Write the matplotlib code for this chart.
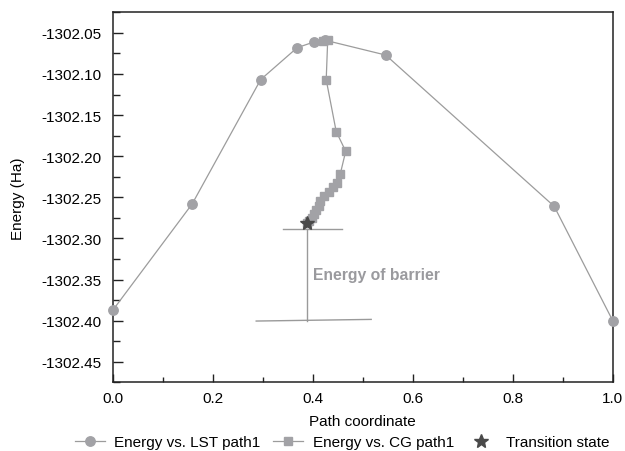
import matplotlib
matplotlib.use("Agg")
import matplotlib.pyplot as plt
from matplotlib.ticker import MultipleLocator, FormatStrFormatter

plt.rcParams['font.family'] = ['Liberation Sans', 'DejaVu Sans']

# LST path
lst_x = [0.0, 0.159, 0.296, 0.369, 0.403, 0.425, 0.546, 0.883, 1.0]
lst_y = [-1302.3875, -1302.258, -1302.1068, -1302.068, -1302.061, -1302.059,
         -1302.077, -1302.261, -1302.400]

# CG path
cg_x = [0.420, 0.430, 0.427, 0.447, 0.466, 0.455, 0.449, 0.441, 0.432, 0.423,
        0.415, 0.412, 0.407, 0.402, 0.398, 0.393, 0.389]
cg_y = [-1302.060, -1302.059, -1302.107, -1302.170, -1302.194, -1302.222,
        -1302.232, -1302.238, -1302.244, -1302.249, -1302.254, -1302.260,
        -1302.265, -1302.270, -1302.275, -1302.279, -1302.281]

# Transition state
ts_x = [0.389]
ts_y = [-1302.281]

# Barrier annotation
bar_top_x = [0.341, 0.459]
bar_top_y = [-1302.288, -1302.288]
bar_bot_x = [0.287, 0.517]
bar_bot_y = [-1302.4005, -1302.3985]
bar_v_x = [0.389, 0.389]
bar_v_y = [-1302.288, -1302.400]
bar_label = "Energy of barrier"

xticks = [0.0, 0.2, 0.4, 0.6, 0.8, 1.0]
yticks = [-1302.45, -1302.40, -1302.35, -1302.30, -1302.25, -1302.20,
          -1302.15, -1302.10, -1302.05]

fig = plt.figure(figsize=(6.25, 4.52), dpi=100)
ax = fig.add_axes([112.7/625, 1-383.3/452, 500/625, 370/452])

mcol = '#a2a2a6'
lcol = '#9c9c9c'
l1, = ax.plot(lst_x, lst_y, '-', color=lcol, lw=0.9, marker='o', ms=6.8,
              mfc=mcol, mec=mcol, label='Energy vs. LST path1', clip_on=False)
l2, = ax.plot(cg_x, cg_y, '-', color=lcol, lw=0.9, marker='s', ms=6.2,
              mfc=mcol, mec=mcol, label='Energy vs. CG path1', clip_on=False)
l3, = ax.plot(ts_x, ts_y, ls='none', marker='*', ms=10, color='#4a4a4a',
              mec='#4a4a4a', label='Transition state', zorder=5)

acol = '#9a9a9a'
ax.plot(bar_top_x, bar_top_y, color=acol, lw=1.0, zorder=1)
ax.plot(bar_bot_x, bar_bot_y, color=acol, lw=1.0, zorder=1)
ax.plot(bar_v_x, bar_v_y, color=acol, lw=1.0, zorder=1)
ax.text(0.401, -1302.344, bar_label, fontsize=11.3, fontweight='bold',
        color='#9a9a9e', va='center', ha='left')

ax.set_xlim(0.0, 1.0)
ax.set_ylim(-1302.475, -1302.025)
ax.set_xticks(xticks)
ax.set_yticks(yticks)
ax.xaxis.set_major_formatter(FormatStrFormatter('%.1f'))
ax.yaxis.set_major_formatter(FormatStrFormatter('%.2f'))
ax.xaxis.set_minor_locator(MultipleLocator(0.1))
ax.yaxis.set_minor_locator(MultipleLocator(0.025))
ax.tick_params(which='both', direction='in', top=False, right=False,
               labelsize=11, color='#222222', width=1.0)
ax.tick_params(axis='y', which='major', length=7, pad=8)
ax.tick_params(axis='y', which='minor', length=5)
ax.tick_params(axis='x', which='major', length=6, pad=6)
ax.tick_params(axis='x', which='minor', length=3.5)
for s in ax.spines.values():
    s.set_linewidth(1.1)
    s.set_color('#222222')
    s.set_zorder(0.5)

ax.set_xlabel('Path coordinate', fontsize=11, labelpad=7)
ax.set_ylabel('Energy (Ha)', fontsize=11, labelpad=12)

fig.legend(handles=[l1, l2, l3], loc='center',
           bbox_to_anchor=(342/625, 1-443/452), ncol=3, frameon=False,
           fontsize=11, handlelength=2.0, handletextpad=0.6,
           columnspacing=0.8, borderaxespad=0)

fig.savefig('out.png', dpi=100)
